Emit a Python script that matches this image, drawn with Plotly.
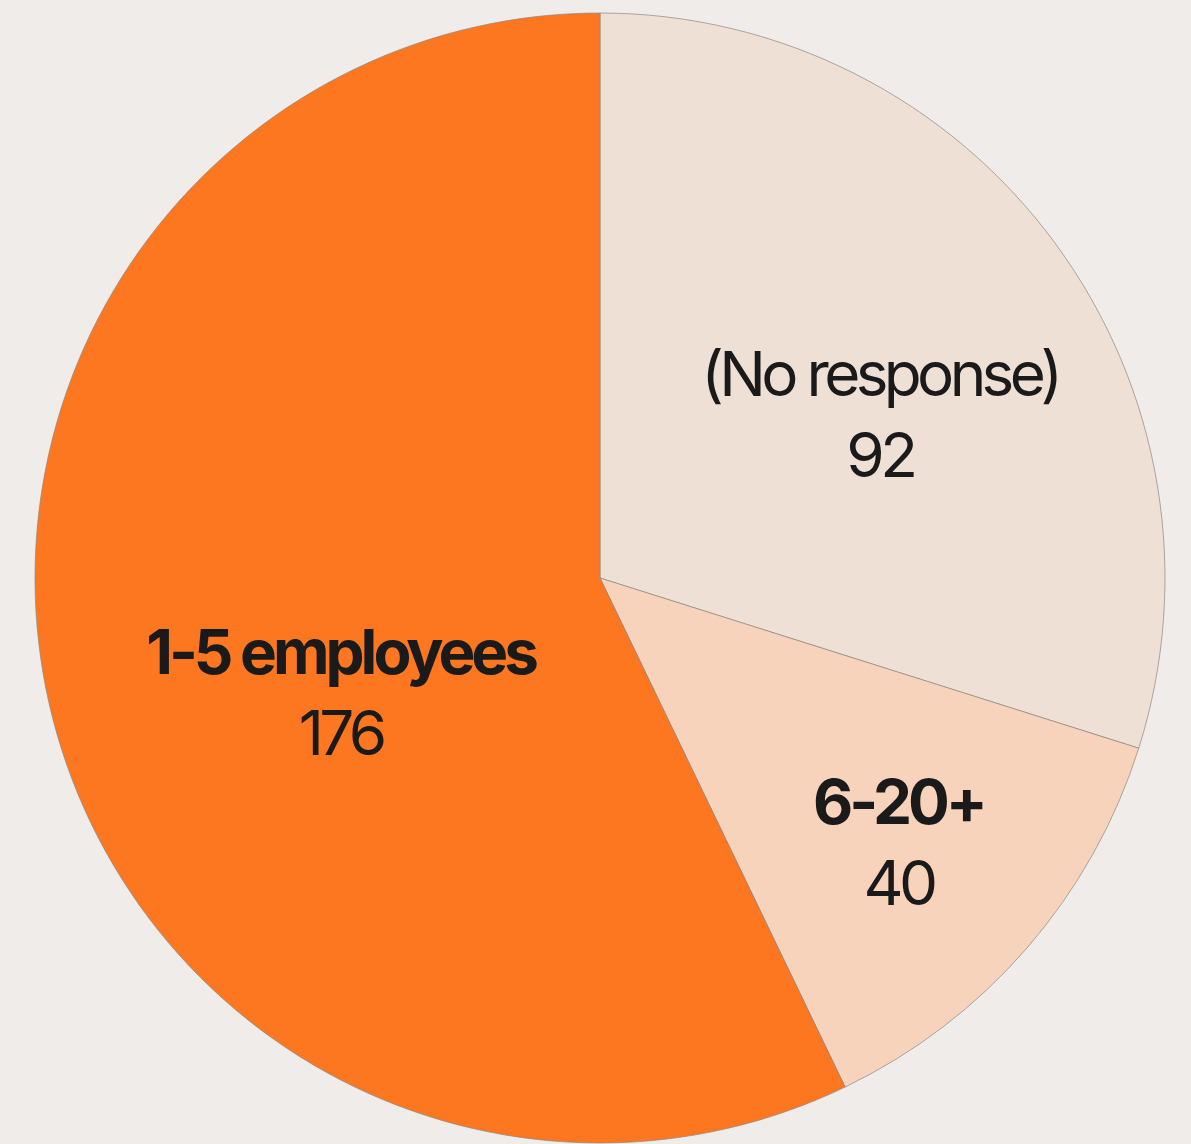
import plotly.graph_objects as go

categories = ["(No response)", "6-20+", "1-5 employees"]
values = [92, 40, 176]
bold_label = [False, True, True]

colors = ["#efe0d5", "#f7d3bc", "#fd7720"]
label_pos = [(880 / 1191, 1 - 414 / 1144), (899 / 1191, 1 - 842 / 1144), (340 / 1191, 1 - 692 / 1144)]

fig = go.Figure(
    go.Pie(
        labels=categories,
        values=values,
        sort=False,
        direction="clockwise",
        rotation=0,
        textinfo="none",
        hoverinfo="label+value",
        marker=dict(colors=colors, line=dict(color="rgba(140,135,130,0.7)", width=1)),
        domain=dict(x=[35 / 1191, 1165 / 1191], y=[1 / 1144, 1131 / 1144]),
        showlegend=False,
    )
)

annotations = []
for cat, val, b, (ax, ay) in zip(categories, values, bold_label, label_pos):
    head = f"<b>{cat}</b>" if b else cat
    annotations.append(
        dict(
            x=ax, y=ay, xref="paper", yref="paper",
            xanchor="center", yanchor="middle",
            text=f"{head}<br>{val}",
            showarrow=False,
            font=dict(family="Inter, Roboto, sans-serif", size=62, color="#1a1a1a"),
            align="center",
        )
    )

fig.update_layout(
    width=1191,
    height=1144,
    margin=dict(l=0, r=0, t=0, b=0),
    paper_bgcolor="#f0ecea",
    plot_bgcolor="#f0ecea",
    annotations=annotations,
)

post = """
document.body.style.margin='0';
document.body.style.background='#f0ecea';
document.querySelectorAll('.annotation-text').forEach(function(e){
  e.style.letterSpacing='-0.075em';
  e.querySelectorAll('tspan').forEach(function(t){
    if ((t.style.fontWeight||'').indexOf('bold')>=0) { t.style.letterSpacing='-0.065em'; }
  });
});
"""
fig.write_html("out.html", post_script=post, config={"displayModeBar": False})
